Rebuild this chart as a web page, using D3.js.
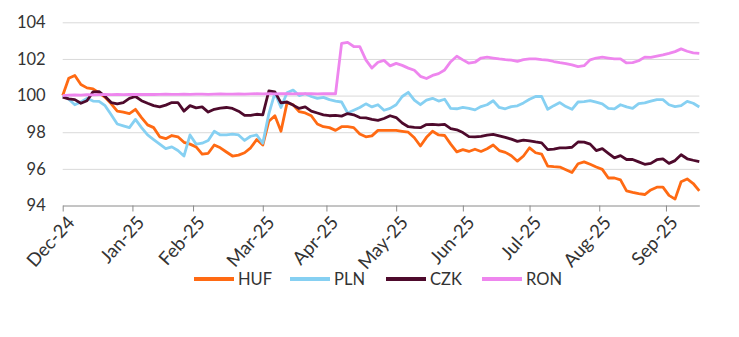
<!DOCTYPE html>
<html>
<head>
<meta charset="utf-8">
<script src="https://cdn.jsdelivr.net/npm/d3@7/dist/d3.min.js"></script>
<style>
  html, body { margin: 0; padding: 0; background: #ffffff; }
  svg { display: block; font-family: Lato, "Liberation Sans", sans-serif; }
</style>
</head>
<body>
<svg id="chart" width="739" height="337"></svg>
<script>
// Trading-day index of each plotted observation (every second session)
const STEP = 2;
const LAST_INDEX = 210;

// Month tick positions (trading-day index) and their labels
const tickIndex = [0, 23, 43, 66, 87, 110, 132, 154, 177, 199];
const tickLabels = ["Dec-24", "Jan-25", "Feb-25", "Mar-25", "Apr-25", "May-25", "Jun-25", "Jul-25", "Aug-25", "Sep-25"];

// Y axis ticks
const yTicks = [94, 96, 98, 100, 102, 104];

// Currency series, rebased to 100 at the start
const seriesNames = ["HUF", "PLN", "CZK", "RON"];
const seriesColors = ["#ff6a13", "#86d0f2", "#4e0a2c", "#ee86ee"];

const HUF = [
  100.0, 100.95, 101.1, 100.6, 100.42, 100.37, 100.15, 99.9, 99.55, 99.15,
  99.1, 99.02, 99.25, 98.8, 98.4, 98.25, 97.75, 97.65, 97.82, 97.75,
  97.45, 97.35, 97.2, 96.8, 96.85, 97.3, 97.15, 96.92, 96.7, 96.75,
  96.88, 97.15, 97.6, 97.3, 98.6, 98.9, 98.05, 99.6, 99.5, 99.12,
  99.05, 98.9, 98.45, 98.3, 98.25, 98.1, 98.3, 98.3, 98.25, 97.9,
  97.75, 97.8, 98.1, 98.1, 98.1, 98.1, 98.05, 98.0, 97.7, 97.25,
  97.72, 98.05, 97.85, 97.82, 97.35, 96.93, 97.05, 96.95, 97.07, 96.95,
  97.1, 97.3, 97.0, 96.9, 96.72, 96.42, 96.7, 97.15, 96.88, 96.8,
  96.15, 96.12, 96.1, 95.95, 95.8, 96.28, 96.38, 96.25, 96.1, 95.97,
  95.5, 95.5, 95.4, 94.8, 94.72, 94.65, 94.6, 94.85, 95.0, 95.0,
  94.55, 94.35, 95.3, 95.45, 95.2, 94.8
];

const PLN = [
  100.0, 99.8, 99.5, 99.65, 99.85, 99.7, 99.68, 99.45, 98.95, 98.45,
  98.35, 98.25, 98.7, 98.25, 97.85, 97.6, 97.35, 97.1, 97.2, 97.0,
  96.7, 97.85, 97.35, 97.4, 97.55, 98.05, 97.85, 97.85, 97.9, 97.85,
  97.55, 97.78, 97.85, 97.4, 99.0, 100.15, 99.35, 100.15, 100.3, 100.0,
  100.1, 99.95, 99.85, 99.9, 99.78, 99.7, 99.65, 99.05, 99.2, 99.35,
  99.55, 99.38, 99.5, 99.2, 99.3, 99.5, 99.95, 100.18, 99.75, 99.5,
  99.75, 99.85, 99.7, 99.8, 99.3, 99.28, 99.35, 99.3, 99.22, 99.4,
  99.5, 99.72, 99.35, 99.28, 99.4, 99.44, 99.6, 99.8, 99.95, 99.95,
  99.25, 99.45, 99.62, 99.4, 99.25, 99.65, 99.67, 99.72, 99.64, 99.55,
  99.3, 99.27, 99.5, 99.38, 99.3, 99.56, 99.6, 99.7, 99.78, 99.78,
  99.5, 99.4, 99.45, 99.68, 99.58, 99.38
];

const CZK = [
  99.92, 99.82, 99.78, 99.58, 99.72, 100.2, 100.22, 99.95, 99.62, 99.55,
  99.62, 99.85, 99.95, 99.72, 99.58, 99.45, 99.38, 99.48, 99.62, 99.62,
  99.15, 99.45, 99.33, 99.38, 99.1, 99.25, 99.32, 99.35, 99.3, 99.15,
  98.92, 98.92, 98.98, 98.95, 100.25, 100.2, 99.6, 99.65, 99.48, 99.3,
  99.38, 99.15, 99.05, 98.95, 98.9, 98.92, 98.88, 99.02, 98.95, 98.8,
  98.78, 98.7, 98.65, 98.75, 98.9, 98.8, 98.5, 98.3, 98.27, 98.25,
  98.42, 98.43, 98.4, 98.43, 98.2, 98.13, 97.98, 97.76, 97.75, 97.77,
  97.84, 97.88, 97.8, 97.72, 97.62, 97.5, 97.57, 97.53, 97.47, 97.42,
  97.05, 97.08, 97.15, 97.14, 97.18, 97.47, 97.46, 97.35, 97.0, 97.1,
  96.85, 96.6, 96.72, 96.51, 96.51, 96.38, 96.25, 96.3, 96.5, 96.55,
  96.3, 96.45, 96.77, 96.55, 96.47, 96.4
];

const RON = [
  100.0, 100.02, 100.04, 100.03, 100.05, 100.04, 100.05, 100.06, 100.05, 100.06,
  100.05, 100.06, 100.07, 100.06, 100.07, 100.06, 100.07, 100.08, 100.07, 100.07,
  100.08, 100.07, 100.08, 100.08, 100.07, 100.08, 100.09, 100.08, 100.08, 100.09,
  100.08, 100.09, 100.1, 100.09, 100.1, 100.09, 100.1, 100.1, 100.09, 100.1,
  100.1, 100.1, 100.09, 100.1, 100.1, 100.1, 102.85, 102.9, 102.68, 102.67,
  101.95, 101.5, 101.82, 101.92, 101.62, 101.76, 101.65, 101.5, 101.38, 101.05,
  100.93, 101.1, 101.2, 101.4, 101.85, 102.15, 101.95, 101.77, 101.82, 102.05,
  102.1, 102.05, 102.0, 101.96, 101.93, 101.87, 101.96, 102.0, 102.0, 101.96,
  101.93, 101.86, 101.8, 101.75, 101.68, 101.58, 101.63, 101.95, 102.05, 102.1,
  102.05, 102.0, 102.0, 101.78, 101.8, 101.9, 102.1, 102.08, 102.15, 102.22,
  102.3, 102.4, 102.55, 102.42, 102.33, 102.3
];

const seriesValues = [HUF, PLN, CZK, RON];

const svg = d3.select("#chart");
const plotLeft = 62.7, plotRight = 699.3, plotTop = 22.3, plotBottom = 205.5;

const x = d3.scaleLinear().domain([0, LAST_INDEX]).range([plotLeft, plotRight]);
const y = d3.scaleLinear().domain([94, 104]).range([plotBottom, plotTop]);

// Horizontal gridlines with value labels
const yAxis = d3.axisLeft(y)
  .tickValues(yTicks)
  .tickSize(-(plotRight - plotLeft))
  .tickPadding(17)
  .tickFormat(d3.format("d"));

const gy = svg.append("g")
  .attr("transform", `translate(${plotLeft},0)`)
  .call(yAxis);
gy.select(".domain").remove();
gy.selectAll(".tick line")
  .attr("stroke", d => d === 94 ? "none" : "#d9d9d9")
  .attr("stroke-width", 1);
gy.selectAll(".tick text")
  .attr("fill", "#333333")
  .style("font-size", "16.5px")
  .style("font-family", "Lato, 'Liberation Sans', sans-serif");

// Bottom category axis
const xAxis = d3.axisBottom(x)
  .tickValues(tickIndex)
  .tickFormat((d, i) => tickLabels[i])
  .tickSizeInner(6)
  .tickSizeOuter(0)
  .tickPadding(4);

const gx = svg.append("g")
  .attr("transform", `translate(0,${plotBottom})`)
  .call(xAxis);
gx.select(".domain").attr("stroke", "#8a8a8a").attr("stroke-width", 1);
gx.selectAll(".tick line").attr("stroke", "#8a8a8a");
gx.selectAll(".tick text")
  .attr("fill", "#333333")
  .style("font-size", "18.5px")
  .style("font-family", "Lato, 'Liberation Sans', sans-serif")
  .attr("text-anchor", "end")
  .attr("dy", "0")
  .attr("transform", "translate(5,11) rotate(-48)");

// Series lines
const line = d3.line()
  .x((d, i) => x(i * STEP))
  .y(d => y(d));

svg.append("g")
  .selectAll("path")
  .data(seriesValues)
  .join("path")
  .attr("d", d => line(d))
  .attr("fill", "none")
  .attr("stroke", (d, i) => seriesColors[i])
  .attr("stroke-width", 2.8)
  .attr("stroke-linejoin", "round")
  .attr("stroke-linecap", "butt");

// Legend
const legend = svg.append("g").attr("transform", "translate(194,279)");
const item = legend.selectAll("g")
  .data(seriesNames)
  .join("g")
  .attr("transform", (d, i) => `translate(${i * 96},0)`);
item.append("line")
  .attr("x1", 0).attr("x2", 40)
  .attr("y1", 0).attr("y2", 0)
  .attr("stroke", (d, i) => seriesColors[i])
  .attr("stroke-width", 4);
item.append("text")
  .attr("x", 44)
  .attr("dy", "0.35em")
  .attr("fill", "#333333")
  .style("font-size", "16.5px")
  .text(d => d);
</script>
</body>
</html>
